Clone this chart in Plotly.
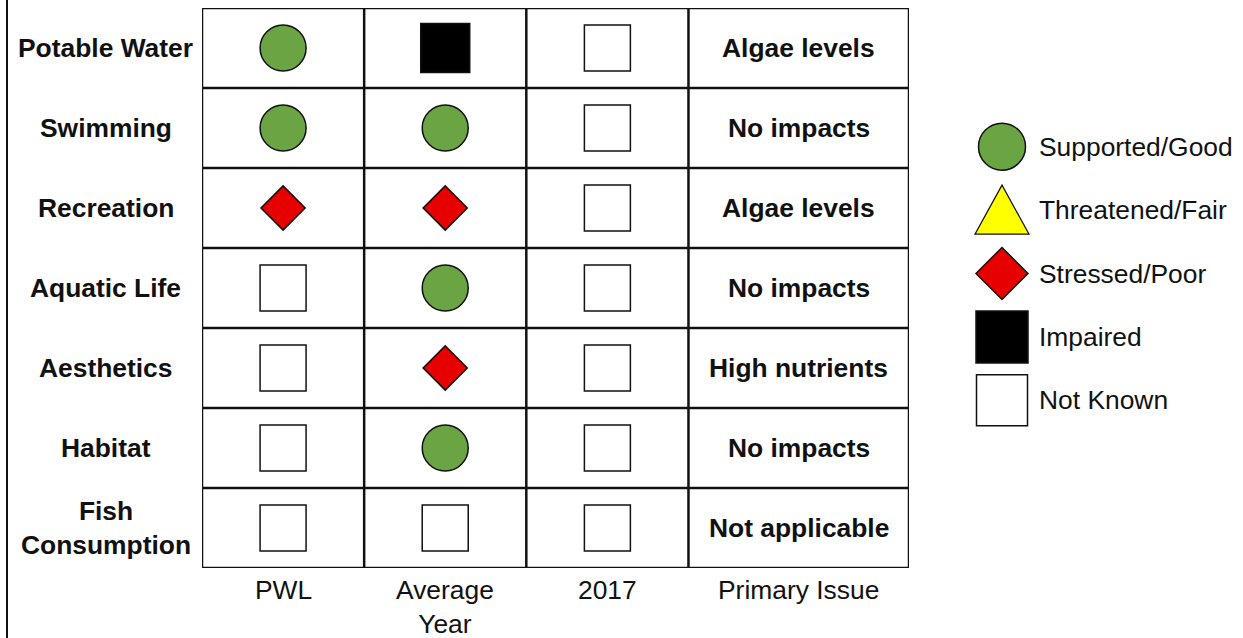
import plotly.graph_objects as go

# ── 数据 ──
uses = ["Potable Water", "Swimming", "Recreation", "Aquatic Life",
        "Aesthetics", "Habitat", "Fish<br>Consumption"]
column_labels = ["PWL", "Average<br>Year", "2017", "Primary Issue"]
pwl = ["Supported/Good", "Supported/Good", "Stressed/Poor", "Not Known",
       "Not Known", "Not Known", "Not Known"]
average_year = ["Impaired", "Supported/Good", "Stressed/Poor", "Supported/Good",
                "Stressed/Poor", "Supported/Good", "Not Known"]
year_2017 = ["Not Known", "Not Known", "Not Known", "Not Known",
             "Not Known", "Not Known", "Not Known"]
primary_issue = ["Algae levels", "No impacts", "Algae levels", "No impacts",
                 "High nutrients", "No impacts", "Not applicable"]
statuses = ["Supported/Good", "Threatened/Fair", "Stressed/Poor", "Impaired", "Not Known"]

# ── 样式 ──
FONT = "Liberation Sans, Arial, sans-serif"
FS = 26.4
W, H = 1243, 638
col_widths = [1, 1, 1, 1.36]
col_edges = [0]
for w in col_widths:
    col_edges.append(col_edges[-1] + w)
col_centers = [(a + b) / 2 for a, b in zip(col_edges[:-1], col_edges[1:])]

style = {
    "Supported/Good": dict(symbol="circle", color="#6AA443", size=46, lsize=47),
    "Threatened/Fair": dict(symbol="triangle-up", color="#FFFF00", size=40, lsize=40),
    "Stressed/Poor": dict(symbol="diamond", color="#E60000", size=34, lsize=40),
    "Impaired": dict(symbol="square", color="#000000", size=49, lsize=52),
    "Not Known": dict(symbol="square", color="#FFFFFF", size=46, lsize=51),
}

fig = go.Figure()

# ── 表格中的状态符号 ──
status_cols = [pwl, average_year, year_2017]
for st in statuses:
    xs, ys = [], []
    for ci, col in enumerate(status_cols):
        for ri, val in enumerate(col):
            if val == st:
                xs.append(col_centers[ci])
                ys.append(uses[ri])
    if not xs:
        continue
    s = style[st]
    fig.add_trace(go.Scatter(
        x=xs, y=ys, mode="markers", hoverinfo="skip", showlegend=False,
        marker=dict(symbol=s["symbol"], color=s["color"], size=s["size"],
                    line=dict(color="#111111", width=1.5)),
    ))

# ── 自制图例（第二组坐标轴）──
for st in statuses:
    if st == "Threatened/Fair":
        continue
    s = style[st]
    fig.add_trace(go.Scatter(
        x=[0.5], y=[st], xaxis="x2", yaxis="y2", mode="markers",
        hoverinfo="skip", showlegend=False,
        marker=dict(symbol=s["symbol"], color=s["color"], size=s["lsize"],
                    line=dict(color="#111111", width=1.5)),
    ))
# 三角形用像素尺寸的 path，保证比例
fig.add_shape(
    type="path", xref="x2", yref="y2", xsizemode="pixel", ysizemode="pixel",
    xanchor=0.5, yanchor=statuses.index("Threatened/Fair"),
    path="M -27,-24 L 27,-24 L 0,25 Z",
    fillcolor=style["Threatened/Fair"]["color"], line=dict(color="#111111", width=1.2),
)
for i, st in enumerate(statuses):
    fig.add_annotation(
        x=1037 / W, xref="paper", y=i, yref="y2", text=st, showarrow=False,
        xanchor="left", font=dict(family=FONT, size=FS, color="#111111"),
    )

# ── 表格线 ──
n = len(uses)
for xe in col_edges:
    fig.add_shape(type="line", xref="x", yref="y", x0=xe, x1=xe, y0=-0.5, y1=n - 0.5,
                  line=dict(color="#111111", width=2.5))
for k in range(n + 1):
    fig.add_shape(type="line", xref="x", yref="y", x0=col_edges[0], x1=col_edges[-1],
                  y0=k - 0.5, y1=k - 0.5, line=dict(color="#111111", width=2.5))
fig.add_shape(type="line", xref="paper", yref="paper", x0=7 / W, x1=7 / W, y0=0, y1=1,
              line=dict(color="#111111", width=2))

# ── 行标签 & 主要问题 ──
for ri, u in enumerate(uses):
    fig.add_annotation(
        x=106 / W, xref="paper", xanchor="center", y=u, yref="y", text=f"<b>{u}</b>",
        showarrow=False, font=dict(family=FONT, size=FS, color="#111111"),
    )
    fig.add_annotation(
        x=col_centers[3], xref="x", xanchor="center", y=u, yref="y",
        text=f"<b>{primary_issue[ri]}</b>",
        showarrow=False, font=dict(family=FONT, size=FS, color="#111111"),
    )

# ── 列标签 ──
for ci, lab in enumerate(column_labels):
    fig.add_annotation(
        x=col_centers[ci], xref="x", xanchor="center", y=(H - 573) / H, yref="paper",
        text=lab, showarrow=False, yanchor="top",
        font=dict(family=FONT, size=FS, color="#111111"),
    )

hidden = dict(showgrid=False, zeroline=False, showticklabels=False, ticks="",
              showline=False, fixedrange=True)
fig.update_layout(
    width=W, height=H,
    margin=dict(l=0, r=0, t=0, b=0),
    paper_bgcolor="white", plot_bgcolor="white",
    xaxis=dict(domain=[202 / W, 909 / W], range=[col_edges[0], col_edges[-1]], **hidden),
    yaxis=dict(domain=[(H - 568) / H, (H - 8) / H], type="category",
               categoryorder="array", categoryarray=uses,
               range=[n - 0.5, -0.5], **hidden),
    xaxis2=dict(domain=[960 / W, 1044 / W], range=[0, 1], anchor="y2", **hidden),
    yaxis2=dict(domain=[(H - 432) / H, (H - 115) / H], type="category",
                categoryorder="array", categoryarray=statuses,
                range=[len(statuses) - 0.5, -0.5], anchor="x2", **hidden),
)

# 页面默认 8px 边距会让整张图偏移，去掉
fig.write_html("out.html", config={"displayModeBar": False},
               post_script="document.body.style.margin='0';")
